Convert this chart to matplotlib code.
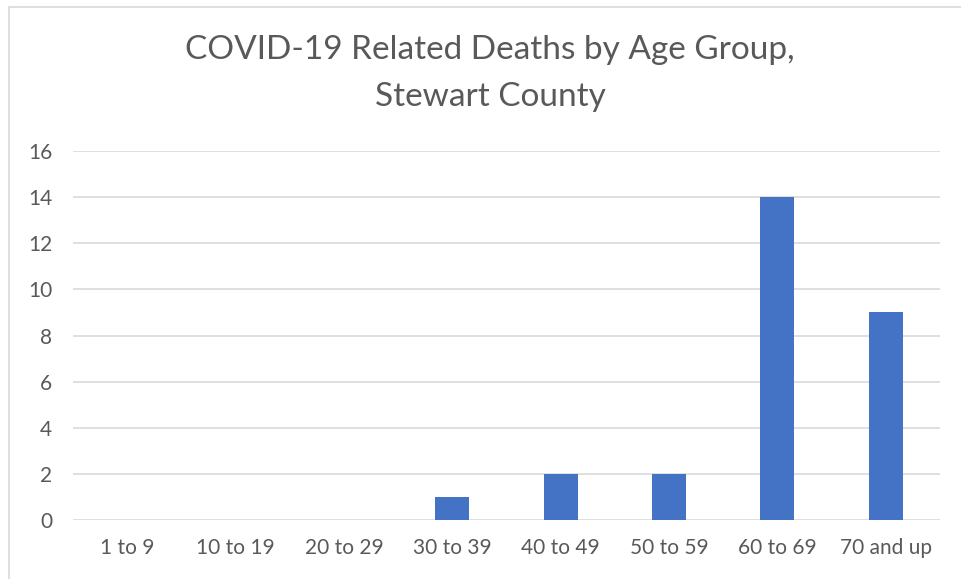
import matplotlib.pyplot as plt
from matplotlib.patches import Rectangle

age_groups = ["1 to 9", "10 to 19", "20 to 29", "30 to 39",
              "40 to 49", "50 to 59", "60 to 69", "70 and up"]
deaths = [0, 0, 0, 1, 2, 2, 14, 9]
y_ticks = [0, 2, 4, 6, 8, 10, 12, 14, 16]
title_lines = ["COVID-19 Related Deaths by Age Group,", "Stewart County"]

W, H = 961, 579
fig = plt.figure(figsize=(W / 100, H / 100), dpi=100)
plt.rcParams['font.family'] = ['Lato', 'DejaVu Sans']

# chart frame (runs off the right and bottom of the picture)
fig.patches.append(Rectangle((9 / W, -0.05), 1.1, 1 - 6.5 / H + 0.05,
                             transform=fig.transFigure, fill=False,
                             edgecolor='#d9d9d9', linewidth=1.2))

ax = fig.add_axes([73 / W, 1 - 520 / H, (940 - 73) / W, (520 - 151) / H])
ax.bar(range(len(age_groups)), deaths, width=0.314, color='#4472c4', zorder=3)
ax.set_xlim(-0.5, len(age_groups) - 0.5)
ax.set_ylim(0, 16)
ax.set_yticks(y_ticks)
ax.set_xticks(range(len(age_groups)))
ax.set_xticklabels(age_groups)
ax.grid(axis='y', color='#d9d9d9', linewidth=1.2, zorder=0)
for s in ax.spines.values():
    s.set_visible(False)
ax.tick_params(length=0, labelsize=15, labelcolor='#595959')
ax.tick_params(axis='x', pad=13)
ax.tick_params(axis='y', pad=15)

for i, line in enumerate(title_lines):
    fig.text(490 / W, 1 - (50 + 47 * i) / H, line,
             ha='center', va='center', fontsize=24, color='#595959')

fig.savefig('out.png', dpi=100)
